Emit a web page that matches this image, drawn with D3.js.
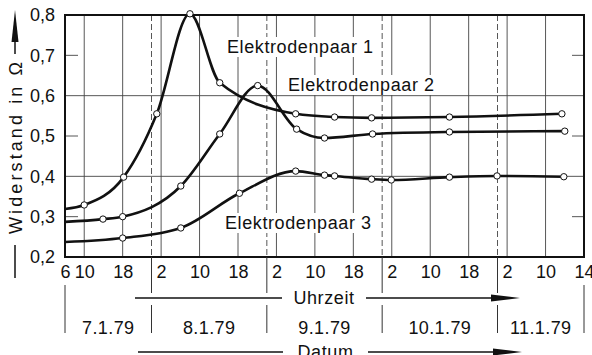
<!DOCTYPE html>
<html>
<head>
<meta charset="utf-8">
<script src="https://cdn.jsdelivr.net/npm/d3@7"></script>
<style>
  body { margin: 0; background: #fff; }
  svg { display: block; }
  text { font-family: "Liberation Sans", Arial, sans-serif; fill: #111; }
</style>
</head>
<body>
<div id="chart"></div>
<script>
// time in hours counted from 7.1.79 06:00
var tickHours = [0, 4, 12, 20, 28, 36, 44, 52, 60, 68, 76, 84, 92, 100, 108];
var tickLabels = ["6", "10", "18", "2", "10", "18", "2", "10", "18", "2", "10", "18", "2", "10", "14"];
var midnightHours = [18, 42, 66, 90];
var dateLabels = ["7.1.79", "8.1.79", "9.1.79", "10.1.79", "11.1.79"];
var yTicks = [0.2, 0.3, 0.4, 0.5, 0.6, 0.7, 0.8];
var yGrid = [0.4, 0.6];
var yShort = [0.3, 0.5, 0.7];

var names = ["Elektrodenpaar 1", "Elektrodenpaar 2", "Elektrodenpaar 3"];
// first entry of each series is the curve start at the left edge (no marker)
var hours1 = [0, 4, 12.2, 19.1, 26, 32.2, 48, 56.1, 63.8, 80, 103.4];
var values1 = [0.319, 0.329, 0.398, 0.555, 0.803, 0.632, 0.555, 0.547, 0.545, 0.547, 0.555];
var hours2 = [0, 7.9, 12, 24.1, 32.2, 40.1, 48.2, 54, 64, 80, 104];
var values2 = [0.287, 0.294, 0.300, 0.376, 0.505, 0.625, 0.517, 0.495, 0.505, 0.510, 0.512];
var hours3 = [0, 12, 24.1, 36.3, 48, 54, 56.1, 63.8, 67.9, 80, 89.9, 103.8];
var values3 = [0.237, 0.247, 0.272, 0.358, 0.413, 0.403, 0.401, 0.393, 0.391, 0.398, 0.401, 0.399];

var series = [[hours1, values1], [hours2, values2], [hours3, values3]].map(function (s) {
    return s[0].map(function (h, i) { return { h: h, v: s[1][i], mark: i > 0 }; });
});

var W = 592, H = 355;
var mLeft = 65, mRight = 584, mTop = 15, mBottom = 257;

var svg = d3.select("#chart").append("svg")
    .attr("width", W)
    .attr("height", H);

var x = d3.scaleLinear().domain([0, 108]).range([mLeft, mRight]);
var y = d3.scaleLinear().domain([0.2, 0.8]).range([mBottom, mTop]);

// grid
var grid = svg.append("g").attr("stroke", "#444").attr("stroke-width", 0.9);
grid.selectAll(".vg")
    .data(tickHours.slice(1, -1))
    .enter().append("line")
    .attr("x1", function (d) { return x(d); })
    .attr("x2", function (d) { return x(d); })
    .attr("y1", mTop).attr("y2", mBottom);
grid.selectAll(".mid")
    .data(midnightHours)
    .enter().append("line")
    .attr("x1", function (d) { return x(d); })
    .attr("x2", function (d) { return x(d); })
    .attr("y1", mTop).attr("y2", mBottom)
    .attr("stroke-dasharray", "6,3");
grid.selectAll(".hg")
    .data(yGrid)
    .enter().append("line")
    .attr("x1", mLeft).attr("x2", mRight)
    .attr("y1", function (d) { return y(d); })
    .attr("y2", function (d) { return y(d); });
grid.selectAll(".hsl")
    .data(yShort)
    .enter().append("line")
    .attr("x1", mLeft).attr("x2", mLeft + 13)
    .attr("y1", function (d) { return y(d); })
    .attr("y2", function (d) { return y(d); });
grid.selectAll(".hsr")
    .data(yShort)
    .enter().append("line")
    .attr("x1", mRight - 12).attr("x2", mRight)
    .attr("y1", function (d) { return y(d); })
    .attr("y2", function (d) { return y(d); });

// series labels with white background
var labelPos = [[227, 53], [288, 91], [225, 229]];
var labels = svg.append("g");
names.forEach(function (n, i) {
    var t = labels.append("text")
        .attr("x", labelPos[i][0])
        .attr("y", labelPos[i][1])
        .attr("font-size", 18)
        .attr("letter-spacing", 0.6)
        .text(n);
    var b = t.node().getBBox();
    labels.insert("rect", "text")
        .attr("x", b.x - 3).attr("y", b.y)
        .attr("width", b.width + 6).attr("height", b.height)
        .attr("fill", "#fff");
});

// frame
svg.append("rect")
    .attr("x", mLeft).attr("y", mTop)
    .attr("width", mRight - mLeft).attr("height", mBottom - mTop)
    .attr("fill", "none").attr("stroke", "#111").attr("stroke-width", 2);

// curves
var line = d3.line()
    .x(function (d) { return x(d.h); })
    .y(function (d) { return y(d.v); })
    .curve(d3.curveMonotoneX);

svg.selectAll(".curve")
    .data(series)
    .enter().append("path")
    .attr("d", line)
    .attr("fill", "none")
    .attr("stroke", "#111")
    .attr("stroke-width", 2.6);

series.forEach(function (s) {
    svg.append("g").selectAll("circle")
        .data(s.filter(function (d) { return d.mark; }))
        .enter().append("circle")
        .attr("cx", function (d) { return x(d.h); })
        .attr("cy", function (d) { return y(d.v); })
        .attr("r", 3.2)
        .attr("fill", "#fff")
        .attr("stroke", "#111")
        .attr("stroke-width", 1);
});

// axes labels
var xAxis = svg.append("g")
    .attr("transform", "translate(0," + (mBottom + 5) + ")")
    .call(d3.axisBottom(x).tickValues(tickHours).tickSize(0)
        .tickFormat(function (d, i) { return tickLabels[i]; }));
xAxis.select(".domain").remove();
xAxis.selectAll("text")
    .attr("font-size", 18)
    .attr("font-family", "Liberation Sans, Arial, sans-serif")
    .attr("fill", "#111");

var yAxis = svg.append("g")
    .attr("transform", "translate(" + (mLeft - 10) + ",0)")
    .call(d3.axisLeft(y).tickValues(yTicks).tickSize(0).tickPadding(0)
        .tickFormat(function (d) { return d3.format(".1f")(d).replace(".", ","); }));
yAxis.select(".domain").remove();
yAxis.selectAll("text")
    .attr("font-size", 18)
    .attr("font-family", "Liberation Sans, Arial, sans-serif")
    .attr("fill", "#111");

// y title with arrow
var yt = svg.append("g");
yt.append("line").attr("x1", 15).attr("x2", 15).attr("y1", 245).attr("y2", 278)
    .attr("stroke", "#111").attr("stroke-width", 1.5);
yt.append("line").attr("x1", 15).attr("x2", 15).attr("y1", 40).attr("y2", 54)
    .attr("stroke", "#111").attr("stroke-width", 1.5);
yt.append("path").attr("d", "M11.5,42 L18.5,42 L15,10 Z").attr("fill", "#111");
yt.append("text")
    .attr("transform", "translate(22,148) rotate(-90)")
    .attr("text-anchor", "middle")
    .attr("font-size", 18)
    .attr("textLength", 172)
    .attr("lengthAdjust", "spacing")
    .text("Widerstand in Ω");

// date row separators
var sep = svg.append("g").attr("stroke", "#333").attr("stroke-width", 1);
midnightHours.forEach(function (h) {
    sep.append("line").attr("x1", x(h)).attr("x2", x(h)).attr("y1", mBottom).attr("y2", 293);
    sep.append("line").attr("x1", x(h)).attr("x2", x(h)).attr("y1", 305).attr("y2", 333);
});
[0, 108].forEach(function (h) {
    sep.append("line").attr("x1", x(h)).attr("x2", x(h)).attr("y1", 285).attr("y2", 333);
});

var bounds = [0].concat(midnightHours, [108]);
svg.append("g").selectAll("text")
    .data(dateLabels)
    .enter().append("text")
    .attr("x", function (d, i) { return (x(bounds[i]) + x(bounds[i + 1])) / 2; })
    .attr("y", 334)
    .attr("text-anchor", "middle")
    .attr("font-size", 18)
    .attr("letter-spacing", 0.4)
    .text(function (d) { return d; });

// arrows "Uhrzeit" and "Datum"
function arrowRow(label, yy, x0, x1, x2, x3) {
    var g = svg.append("g");
    g.append("line").attr("x1", x0).attr("x2", x1).attr("y1", yy).attr("y2", yy)
        .attr("stroke", "#111").attr("stroke-width", 1.3);
    g.append("line").attr("x1", x2).attr("x2", x3 - 20).attr("y1", yy).attr("y2", yy)
        .attr("stroke", "#111").attr("stroke-width", 1.3);
    g.append("path")
        .attr("d", "M" + (x3 - 29) + "," + (yy - 3.5) + " L" + x3 + "," + yy + " L" + (x3 - 29) + "," + (yy + 3.5) + " Z")
        .attr("fill", "#111");
    g.append("text")
        .attr("x", (x1 + x2) / 2).attr("y", yy + 6)
        .attr("text-anchor", "middle")
        .attr("font-size", 18)
        .attr("letter-spacing", 0.6)
        .text(label);
}
arrowRow("Uhrzeit", 298, 135, 282, 366, 520);
arrowRow("Datum", 352, 138, 283, 368, 522);
</script>
</body>
</html>
